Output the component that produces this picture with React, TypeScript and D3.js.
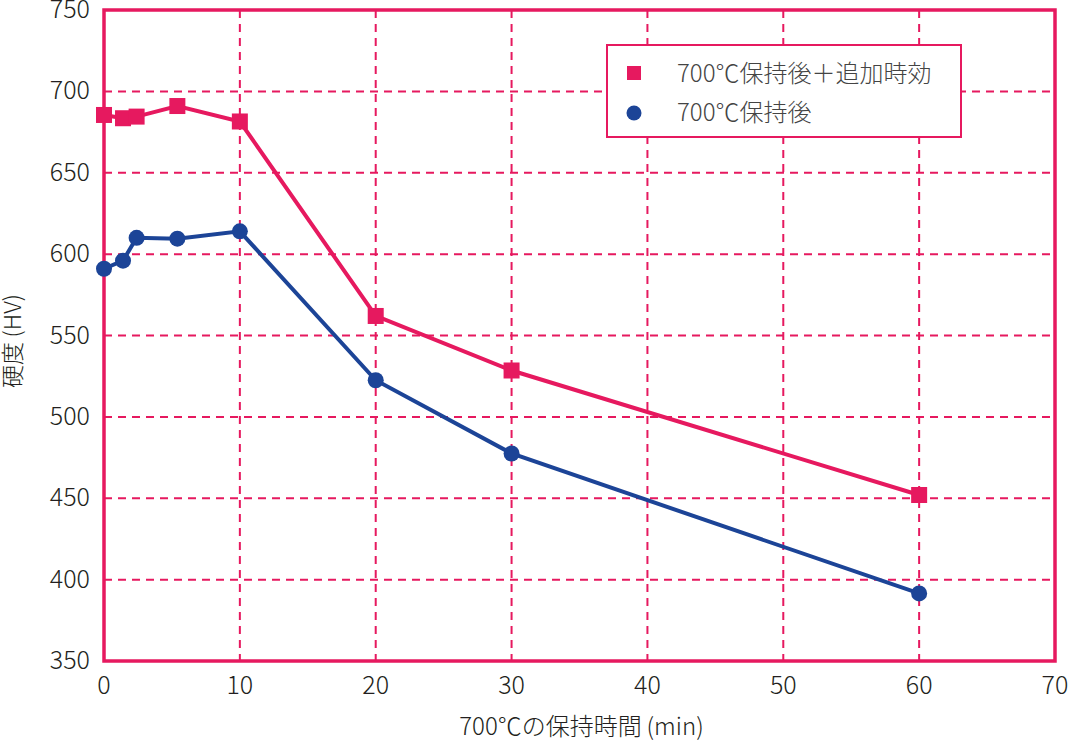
import { useEffect, useRef } from 'react';
import * as d3 from 'd3';

// 保持時間 (min)
const times = [0, 1.4, 2.4, 5.4, 10, 20, 30, 60];
// 700℃保持後＋追加時効
const agedHv = [685.5, 683.5, 684.5, 691, 681.5, 562, 528.5, 452];
// 700℃保持後
const heldHv = [591, 596, 610, 609.5, 614, 522.5, 477.5, 391.5];

const xTicks = [0, 10, 20, 30, 40, 50, 60, 70];
const yTicks = [350, 400, 450, 500, 550, 600, 650, 700, 750];

const legendLabels = ['700℃保持後＋追加時効', '700℃保持後'];
const xTitle = '700℃の保持時間\u2009(min)';
const yTitle = '硬度\u2009(HV)';

const PINK = '#e6195f';
const BLUE = '#1c4497';
const TEXT = '#231f20';
const FONT = '"Noto Sans CJK JP", "Noto Sans", sans-serif';

const App = () => {
  const svgRef = useRef<SVGSVGElement>(null);

  useEffect(() => {
    if (!svgRef.current) return;
    const root = d3.select(svgRef.current);
    root.selectAll('*').remove();

    const margin = { top: 10, right: 16, bottom: 81, left: 104 };
    const width = 1071;
    const height = 742;
    const innerWidth = width - margin.left - margin.right;
    const innerHeight = height - margin.top - margin.bottom;

    const x = d3.scaleLinear().domain([0, 70]).range([0, innerWidth]);
    const y = d3.scaleLinear().domain([350, 750]).range([innerHeight, 0]);

    const g = root.append('g').attr('transform', `translate(${margin.left},${margin.top})`);

    // グリッド（破線）
    g.selectAll('.vgrid')
      .data(xTicks.filter((t) => t > 0 && t < 70))
      .join('line')
      .attr('x1', (d) => x(d))
      .attr('x2', (d) => x(d))
      .attr('y1', 0)
      .attr('y2', innerHeight)
      .attr('stroke', PINK)
      .attr('stroke-width', 2)
      .attr('stroke-dasharray', '8,6');

    g.selectAll('.hgrid')
      .data(yTicks.filter((t) => t > 350 && t < 750))
      .join('line')
      .attr('x1', 0)
      .attr('x2', innerWidth)
      .attr('y1', (d) => y(d))
      .attr('y2', (d) => y(d))
      .attr('stroke', PINK)
      .attr('stroke-width', 2)
      .attr('stroke-dasharray', '8,6');

    // 枠
    g.append('rect')
      .attr('x', 0)
      .attr('y', 0)
      .attr('width', innerWidth)
      .attr('height', innerHeight)
      .attr('fill', 'none')
      .attr('stroke', PINK)
      .attr('stroke-width', 3.5);

    // 軸ラベル
    g.selectAll('.xtick')
      .data(xTicks)
      .join('text')
      .attr('x', (d) => x(d))
      .attr('y', innerHeight + 33)
      .attr('text-anchor', 'middle')
      .attr('font-size', 25)
      .attr('font-weight', 300)
      .attr('font-family', FONT)
      .attr('fill', TEXT)
      .text((d) => String(d));

    g.selectAll('.ytick')
      .data(yTicks)
      .join('text')
      .attr('x', -14)
      .attr('y', (d) => y(d) + 8)
      .attr('text-anchor', 'end')
      .attr('font-size', 25)
      .attr('font-weight', 300)
      .attr('font-family', FONT)
      .attr('fill', TEXT)
      .text((d) => String(d));

    root
      .append('text')
      .attr('x', margin.left + innerWidth / 2 + 2)
      .attr('y', 735)
      .attr('text-anchor', 'middle')
      .attr('font-size', 24)
      .attr('font-weight', 300)
      .attr('font-family', FONT)
      .attr('fill', TEXT)
      .text(xTitle);

    root
      .append('text')
      .attr('transform', 'translate(21,341) rotate(-90)')
      .attr('text-anchor', 'middle')
      .attr('font-size', 23)
      .attr('font-weight', 300)
      .attr('font-family', FONT)
      .attr('fill', TEXT)
      .text(yTitle);

    // 折れ線
    const line = d3
      .line<number>()
      .x((_, i) => x(times[i]))
      .y((d) => y(d));

    g.append('path')
      .datum(agedHv)
      .attr('fill', 'none')
      .attr('stroke', PINK)
      .attr('stroke-width', 4)
      .attr('d', line);

    g.append('path')
      .datum(heldHv)
      .attr('fill', 'none')
      .attr('stroke', BLUE)
      .attr('stroke-width', 4)
      .attr('d', line);

    const sq = 16;
    g.selectAll('.aged')
      .data(agedHv)
      .join('rect')
      .attr('x', (_, i) => x(times[i]) - sq / 2)
      .attr('y', (d) => y(d) - sq / 2)
      .attr('width', sq)
      .attr('height', sq)
      .attr('fill', PINK);

    g.selectAll('.held')
      .data(heldHv)
      .join('circle')
      .attr('cx', (_, i) => x(times[i]))
      .attr('cy', (d) => y(d))
      .attr('r', 8)
      .attr('fill', BLUE);

    // 凡例
    const lg = root.append('g').attr('transform', 'translate(607,45)');
    lg.append('rect')
      .attr('width', 354)
      .attr('height', 92)
      .attr('fill', 'white')
      .attr('stroke', PINK)
      .attr('stroke-width', 2);
    lg.append('rect').attr('x', 20).attr('y', 21).attr('width', 14).attr('height', 14).attr('fill', PINK);
    lg.append('circle').attr('cx', 27).attr('cy', 68).attr('r', 7.5).attr('fill', BLUE);
    lg.selectAll('.lt')
      .data(legendLabels)
      .join('text')
      .attr('x', 70)
      .attr('y', (_, i) => 37 + i * 39)
      .attr('font-size', 24)
      .attr('font-weight', 300)
      .attr('font-family', FONT)
      .attr('fill', '#444')
      .text((d) => d);
  }, []);

  return (
    <svg
      ref={svgRef}
      width={1071}
      height={742}
      style={{ position: 'absolute', left: 0, top: 0, background: 'white' }}
    />
  );
};

export default App;
